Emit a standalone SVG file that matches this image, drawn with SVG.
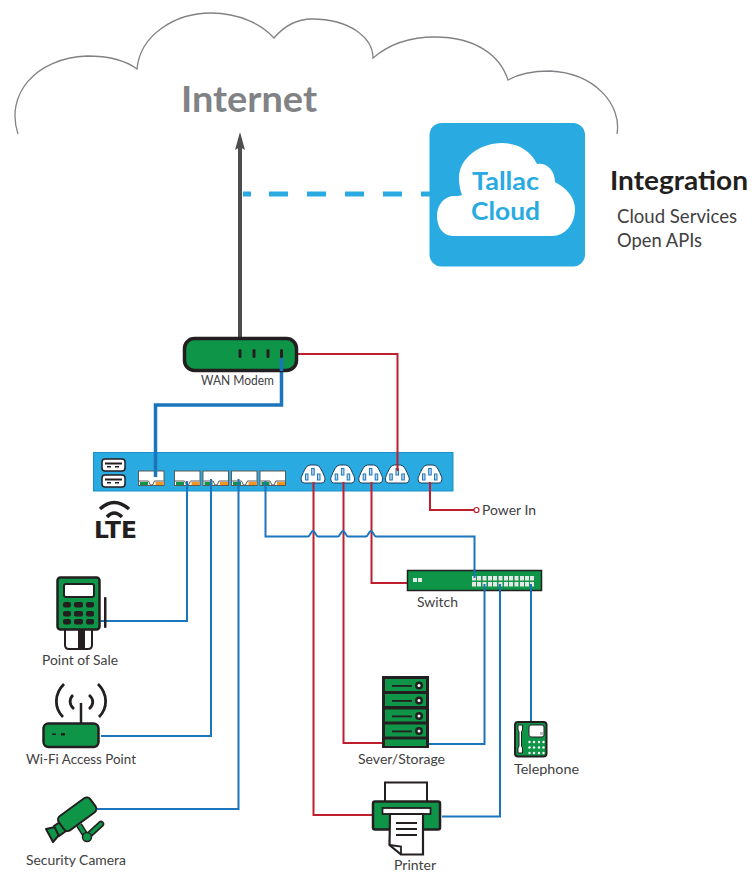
<svg xmlns="http://www.w3.org/2000/svg" width="752" height="873" viewBox="0 0 752 873">
<style>
text{font-family:"Lato","Noto Sans","Liberation Sans",sans-serif}
.lbl{font-size:13.500px;fill:#414042}
.sub{font-size:18.500px;fill:#414042}
.hd{font-weight:700}
.eth{fill:none;stroke:#1b75bc;stroke-width:2}
.pwr{fill:none;stroke:#be1e2d;stroke-width:2}
.g{fill:#0f9548;stroke:#231f20}
.d{fill:#231f20}
.w{fill:#fff}
.out{fill:#fff;stroke:#1c3f5f;stroke-width:1}
.pin{fill:#bcd8ee;stroke:#1b75bc;stroke-width:1}
</style>
<defs>
<g id="port"><rect x="0" y="0" width="25.500" height="14.500" fill="#fff" stroke="#58595b" stroke-width="1"/><path d="M0.500 10 H10 L12 14 H14 L16 10 H25" fill="none" stroke="#58595b" stroke-width="1"/><rect x="1.500" y="11" width="8" height="3" fill="#0f9548"/><rect x="17" y="11" width="8" height="3" fill="#f7941d"/></g>
<g id="outlet"><path class="out" d="M-9 9 Q-12 9 -12 5 Q-12 3 -8 -5 Q-6 -9 -3 -9 H3 Q6 -9 8 -5 Q12 3 12 5 Q12 9 9 9 Z"/><rect class="pin" x="-7.500" y="0" width="2.500" height="6"/><rect class="pin" x="-1.300" y="-5.500" width="2.500" height="6.500"/><rect class="pin" x="4.500" y="0" width="2.500" height="6"/></g>
<g id="usb"><rect x="0" y="0" width="23" height="12" rx="3" fill="#fff" stroke="#231f20" stroke-width="1.500"/><rect x="3" y="3.500" width="17" height="2" fill="#231f20"/><rect x="5" y="7" width="4" height="1.500" fill="#231f20"/><rect x="13" y="7" width="4" height="1.500" fill="#231f20"/></g>
<g id="srv"><rect x="0" y="0" width="41" height="12" fill="#0f9548"/><rect x="7" y="6" width="20" height="1.800" fill="#231f20"/><circle cx="34" cy="6.500" r="4" fill="#231f20"/><circle cx="34" cy="6.500" r="1.500" fill="#fff"/></g>
</defs>

<g id="internet">
<path d="M18 134 C5 95 35 58 87 56 C108 56 125 60 137 69 C140 35 175 13 211 13 C240 13 262 25 274 38 C285 25 298 19 312 19 C350 19 373 38 373 58 C388 45 410 37 435 37 C475 37 500 55 508 80 C520 73 535 71 550 71 C595 73 622 105 617 134" fill="none" stroke="#808285" stroke-width="1.300"/>
<text x="181" y="112" class="hd" font-size="36" fill="#808285" textLength="136" lengthAdjust="spacingAndGlyphs">Internet</text>
</g>

<g id="tallac-cloud">
<rect x="429.500" y="123" width="155.500" height="143.500" rx="12" fill="#29abe2"/>
<path d="M453 236 C443 236 437 227 437 216 C437 204 445 196 454 196 C457 196 460 196 462 195 C460 190 459 184 459 178 C459 158 480 143 502 143 C518 143 531 151 537 164 C546 162 555 170 555 182 C566 188 575 197 575 209 C575 224 565 236 552 236 Z" fill="#fff"/>
<text x="472" y="190" class="hd" font-size="24" fill="#29abe2" textLength="67" lengthAdjust="spacingAndGlyphs">Tallac</text>
<text x="471" y="220" class="hd" font-size="24" fill="#29abe2" textLength="69" lengthAdjust="spacingAndGlyphs">Cloud</text>
</g>

<g id="integration">
<text x="610" y="190" class="hd" font-size="27" fill="#231f20" textLength="138" lengthAdjust="spacingAndGlyphs">Integration</text>
<text x="617" y="223" class="sub" textLength="120" lengthAdjust="spacingAndGlyphs">Cloud Services</text>
<text x="617" y="247" class="sub" textLength="85" lengthAdjust="spacingAndGlyphs">Open APIs</text>
</g>

<g id="hub">
<rect x="93.500" y="452.500" width="359.500" height="38.500" fill="#29abe2" stroke="#1b8fcb" stroke-width="1"/>
<use href="#usb" x="102" y="459"/><use href="#usb" x="102" y="475"/>
<use href="#port" x="138.500" y="471"/><use href="#port" x="174.500" y="471"/><use href="#port" x="203" y="471"/><use href="#port" x="231.500" y="471"/><use href="#port" x="260" y="471"/>
<use href="#outlet" x="313" y="474"/><use href="#outlet" x="342.700" y="474"/><use href="#outlet" x="370.700" y="474"/><use href="#outlet" x="397.300" y="474"/><use href="#outlet" x="430" y="474"/>
</g>

<g id="lte">
<path d="M100 509 Q114 496 129 509" fill="none" stroke="#231f20" stroke-width="3.500"/>
<path d="M107 517 Q114 509 122 517" fill="none" stroke="#231f20" stroke-width="3.500"/>
<text x="94" y="538" font-size="23" font-weight="700" fill="#231f20" textLength="43" lengthAdjust="spacingAndGlyphs" style="font-family:'DejaVu Sans',sans-serif">LTE</text>
</g>

<g id="connectors">
<path d="M240 337 V145" fill="none" stroke="#4d4d4f" stroke-width="4"/>
<path d="M240 132 L245 150 L240 147 L235 150 Z" fill="#4d4d4f"/>
<path d="M243 194 H430" fill="none" stroke="#29abe2" stroke-width="5" stroke-dasharray="8 18 19 19 19 19 19 19 19 19 19 19"/>
<path class="pwr" d="M297 354 H397.500 V471"/>
<path d="M281.500 358 V405 H155.500 V477" fill="none" stroke="#1b75bc" stroke-width="3.500"/>
<path class="eth" d="M187 481 V621 H99"/>
<path class="eth" d="M211 479 V736 H101"/>
<path class="eth" d="M238.500 479 V809 H95"/>
<path class="pwr" d="M313.500 482 V815 H372"/>
<path class="pwr" d="M343.500 482 V743 H382"/>
<path class="pwr" d="M371.500 482 V583 H407"/>
<path class="pwr" d="M430 482 V510 H474"/>
<path class="eth" d="M265.500 481 V536.500 H308 C310 536.500 311 531 313 531 C315 531 316 536.500 318 536.500 H338 C340 536.500 341 531 343 531 C345 531 346 536.500 348 536.500 H366 C368 536.500 369 531 371 531 C373 531 374 536.500 376 536.500 H474.500 V578"/>
<path class="eth" d="M484.500 584 V744 H428"/>
<path class="eth" d="M500 584 V816.500 H442"/>
<path class="eth" d="M531 584 V721"/>
</g>

<g id="power-in">
<circle cx="476.500" cy="510" r="2.500" fill="#fff" stroke="#be1e2d" stroke-width="1.200"/>
<text x="482" y="515" class="lbl" textLength="54" lengthAdjust="spacingAndGlyphs">Power In</text>
</g>

<g id="wan-modem">
<rect x="184.500" y="338.500" width="112" height="32" rx="10" class="g" stroke-width="3.500"/>
<rect x="238.500" y="349" width="3" height="9" rx="1.500" class="d"/><rect x="252.500" y="349" width="3" height="9" rx="1.500" class="d"/><rect x="266.500" y="349" width="3" height="9" rx="1.500" class="d"/><rect x="280" y="349" width="3" height="9" rx="1.500" class="d"/>
<path d="M281.500 358 V371" stroke="#1b75bc" stroke-width="3.500" fill="none"/>
<text x="201" y="385" class="lbl" textLength="73" lengthAdjust="spacingAndGlyphs">WAN Modem</text>
</g>

<g id="point-of-sale">
<path d="M65 630 V645 Q65 649 69 649 H88 Q92 649 92 645 V630" fill="none" stroke="#231f20" stroke-width="2"/>
<rect x="78" y="630" width="7" height="18" class="d"/>
<rect x="57.500" y="577.500" width="42" height="52" rx="3" class="g" stroke-width="2.500"/>
<rect x="64" y="584" width="30" height="13" rx="2" fill="#fff" stroke="#231f20" stroke-width="2"/>
<g class="d"><rect x="63" y="602" width="8" height="5.500" rx="2"/><rect x="74" y="602" width="9" height="5.500" rx="2"/><rect x="86" y="602" width="8" height="5.500" rx="2"/><rect x="63" y="611" width="8" height="5.500" rx="2"/><rect x="74" y="611" width="9" height="5.500" rx="2"/><rect x="86" y="611" width="8" height="5.500" rx="2"/><rect x="63" y="619" width="8" height="5.500" rx="2"/><rect x="74" y="619" width="9" height="5.500" rx="2"/><rect x="86" y="619" width="8" height="5.500" rx="2"/></g>
<rect x="104" y="597" width="2.500" height="31" rx="1" class="d"/>
<text x="42" y="665" class="lbl" textLength="76" lengthAdjust="spacingAndGlyphs">Point of Sale</text>
</g>

<g id="wifi-access-point">
<path d="M81 703 V723" stroke="#231f20" stroke-width="2.500" fill="none"/>
<path d="M64 684 C54 694 54 708 63 717 M73 695 C69 699 69 705 74 709 M98 684 C108 694 108 708 99 717 M89 695 C94 699 94 705 89 709" fill="none" stroke="#231f20" stroke-width="2.800"/>
<rect x="43.500" y="723.500" width="55" height="23.500" rx="5" class="g" stroke-width="2.500"/>
<rect x="52" y="733.500" width="4" height="1.500" class="d"/><rect x="61" y="733" width="4" height="2.500" class="d"/>
<text x="26" y="764" class="lbl" textLength="110" lengthAdjust="spacingAndGlyphs">Wi-Fi Access Point</text>
</g>

<g id="security-camera">
<path d="M79 825 L86 836" stroke="#231f20" stroke-width="6.500" fill="none"/>
<path d="M79 825 L86 836" stroke="#0f9548" stroke-width="3.500" fill="none"/>
<path d="M89 835 L101 824" stroke="#231f20" stroke-width="6.500" fill="none" stroke-linecap="round"/>
<path d="M89 835 L101 824" stroke="#0f9548" stroke-width="3.500" fill="none" stroke-linecap="round"/>
<circle cx="87" cy="837" r="4.500" class="g" stroke-width="1.500"/>
<path d="M46 829 L53 842 L59 835 L55 827 Z" class="g" stroke-width="2" stroke-linejoin="round"/>
<path d="M54 826 L60 822 L66 831 L59 836 Z" class="g" stroke-width="2"/>
<rect x="57.500" y="805.500" width="39" height="17.500" rx="4.500" transform="rotate(-36 77 814)" class="g" stroke-width="2"/>
<text x="26" y="865" class="lbl" textLength="100" lengthAdjust="spacingAndGlyphs">Security Camera</text>
</g>

<g id="switch">
<rect x="407.500" y="570.500" width="134" height="20" class="g" stroke-width="1.500"/>
<rect x="413" y="578" width="4" height="4" fill="#e6e7e8"/><rect x="418" y="578" width="4" height="4" fill="#e6e7e8"/>
<g fill="#e6e7e8">
<rect x="472" y="576" width="4" height="4.500"/><rect x="477" y="576" width="4" height="4.500"/><rect x="482.500" y="576" width="4" height="4.500"/><rect x="488" y="576" width="4" height="4.500"/><rect x="493" y="576" width="4" height="4.500"/><rect x="498.500" y="576" width="4" height="4.500"/><rect x="504" y="576" width="4" height="4.500"/><rect x="509" y="576" width="4" height="4.500"/><rect x="514.500" y="576" width="4" height="4.500"/><rect x="520" y="576" width="4" height="4.500"/><rect x="525" y="576" width="4" height="4.500"/><rect x="530" y="576" width="4" height="4.500"/>
<rect x="472" y="582" width="4" height="4.500"/><rect x="477" y="582" width="4" height="4.500"/><rect x="482.500" y="582" width="4" height="4.500"/><rect x="488" y="582" width="4" height="4.500"/><rect x="493" y="582" width="4" height="4.500"/><rect x="498.500" y="582" width="4" height="4.500"/><rect x="504" y="582" width="4" height="4.500"/><rect x="509" y="582" width="4" height="4.500"/><rect x="514.500" y="582" width="4" height="4.500"/><rect x="520" y="582" width="4" height="4.500"/><rect x="525" y="582" width="4" height="4.500"/><rect x="530" y="582" width="4" height="4.500"/>
</g>
<path d="M474.500 570 V578 M484.500 584 V591 M500 584 V591 M531 584 V591" stroke="#1b75bc" stroke-width="2" fill="none"/>
<text x="417" y="607" class="lbl" textLength="41" lengthAdjust="spacingAndGlyphs">Switch</text>
</g>

<g id="server-storage">
<rect x="382" y="676" width="47" height="72" class="d"/>
<use href="#srv" x="385" y="679"/><use href="#srv" x="385" y="694"/><use href="#srv" x="385" y="709.500"/><use href="#srv" x="385" y="724.500"/>
<rect x="385" y="739.500" width="41" height="6.500" fill="#0f9548"/>
<text x="358" y="764" class="lbl" textLength="87" lengthAdjust="spacingAndGlyphs">Sever/Storage</text>
</g>

<g id="telephone">
<rect x="515" y="722" width="31.500" height="34.500" rx="3" class="g" stroke-width="2"/>
<path d="M518 725 H522.500 V730 L521.500 732 V746 L522.500 748 V753 H518 V748 L519 746 V732 L518 730 Z" fill="#fff" stroke="#231f20" stroke-width="1"/>
<rect x="529" y="725" width="15" height="12" rx="2" fill="#fff" stroke="#231f20" stroke-width="1"/>
<rect x="540" y="732" width="3" height="3" fill="#bcbec0"/>
<g fill="#fff"><circle cx="529.500" cy="742" r="1.200"/><circle cx="534" cy="742" r="1.200"/><circle cx="539" cy="742" r="1.200"/><circle cx="543.500" cy="742" r="1.200"/><circle cx="529.500" cy="747.500" r="1.200"/><circle cx="534" cy="747.500" r="1.200"/><circle cx="539" cy="747.500" r="1.200"/><circle cx="543.500" cy="747.500" r="1.200"/><circle cx="529.500" cy="753" r="1.200"/><circle cx="534" cy="753" r="1.200"/><circle cx="539" cy="753" r="1.200"/><circle cx="543.500" cy="753" r="1.200"/></g>
<text x="514" y="774" class="lbl" textLength="65" lengthAdjust="spacingAndGlyphs">Telephone</text>
</g>

<g id="printer">
<rect x="385" y="782.500" width="42" height="20" fill="#fff" stroke="#231f20" stroke-width="2"/>
<rect x="373" y="801.500" width="67" height="28" rx="2" class="g" stroke-width="2.500"/>
<rect x="382.500" y="808" width="48" height="6" fill="#fff" stroke="#231f20" stroke-width="1.800"/>
<path d="M390 814 H423 V854.500 H401 L389.500 845 Z" fill="#fff" stroke="#231f20" stroke-width="2.200"/>
<path d="M389.500 845 L401 846.500 V854.500" fill="none" stroke="#231f20" stroke-width="1.800"/>
<path d="M396 823 H417 M396 829 H417 M396 835 H417" stroke="#231f20" stroke-width="2" fill="none"/>
<text x="394" y="870" class="lbl" textLength="42" lengthAdjust="spacingAndGlyphs">Printer</text>
</g>
</svg>
